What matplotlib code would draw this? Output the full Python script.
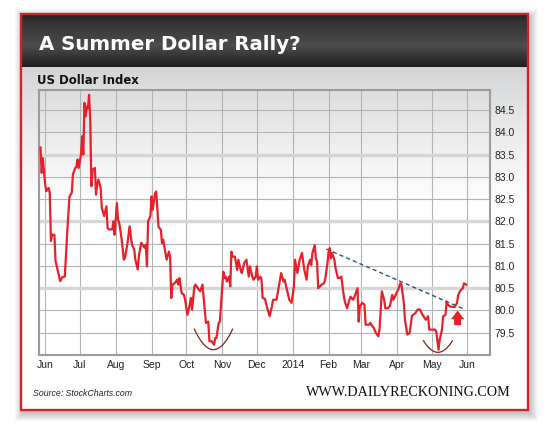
import numpy as np
import pandas as pd
import matplotlib
matplotlib.use('Agg')
import matplotlib.pyplot as plt
from matplotlib.patches import Rectangle

# US Dollar Index (days counted from 1 Jun 2013)
start = pd.Timestamp('2013-06-01')
day_offsets = [
    -4, -3, -2, 0, 1, 3, 4, 5, 6, 8, 9, 11, 13, 15, 17, 19, 21, 23, 24, 26,
    27, 28, 29, 31, 32, 33, 34, 35, 36, 37, 38, 39, 40, 41, 43, 44, 45, 46, 48, 49,
    51, 53, 54, 55, 58, 59, 60, 62, 63, 64, 66, 68, 69, 71, 73, 75, 77, 78, 80, 81,
    83, 84, 86, 87, 88, 89, 91, 92, 93, 95, 96, 98, 100, 101, 102, 104, 105, 107, 108, 109,
    110, 112, 114, 115, 116, 118, 120, 121, 123, 125, 126, 127, 129, 130, 132, 134, 136, 138, 139, 141,
    142, 144, 146, 147, 148, 150, 151, 153, 154, 155, 156, 157, 159, 160, 161, 162, 164, 166, 167, 169,
    170, 172, 173, 174, 176, 177, 179, 180, 182, 183, 184, 186, 187, 188, 190, 192, 194, 196, 197, 200,
    202, 204, 206, 207, 209, 211, 213, 215, 216, 218, 220, 222, 224, 226, 227, 229, 230, 231, 233, 234,
    235, 236, 239, 241, 242, 244, 245, 246, 247, 248, 250, 251, 253, 255, 256, 258, 259, 261, 263, 264,
    266, 267, 270, 271, 272, 274, 276, 277, 280, 281, 283, 284, 286, 288, 289, 291, 293, 294, 296, 298,
    300, 301, 303, 305, 307, 308, 310, 311, 313, 315, 317, 318, 320, 322, 324, 325, 327, 329, 331, 332,
    334, 336, 337, 338, 340, 341, 343, 344, 346, 347, 348, 350, 352, 354, 356, 357, 359, 361, 362, 364,
]
usd_index = [
    83.66, 83.09, 83.42, 82.83, 82.68, 82.75, 82.64, 81.56, 81.70, 81.70, 81.11, 80.88, 80.66, 80.75, 80.76, 81.70, 82.56, 82.64, 83.05, 83.20,
    83.22, 83.39, 83.20, 83.50, 83.91, 83.50, 84.66, 84.36, 84.58, 84.54, 84.84, 84.25, 82.79, 83.16, 83.20, 82.60, 82.83, 82.94, 82.75, 82.30,
    82.12, 82.34, 81.85, 81.82, 81.82, 82.00, 81.70, 82.41, 82.04, 81.97, 81.63, 81.14, 81.18, 81.48, 81.89, 81.48, 81.37, 81.14, 80.92, 81.22,
    81.52, 81.48, 81.41, 81.48, 80.99, 82.00, 82.12, 82.56, 82.26, 82.63, 82.67, 81.88, 81.81, 81.51, 81.59, 81.29, 81.14, 81.32, 81.21, 80.28,
    80.58, 80.61, 80.69, 80.58, 80.73, 80.39, 80.35, 80.24, 79.90, 80.13, 80.28, 80.02, 80.54, 80.58, 80.50, 80.43, 80.58, 80.02, 79.72, 79.75,
    79.31, 79.31, 79.23, 79.38, 79.38, 79.72, 79.75, 80.50, 80.87, 80.73, 80.76, 80.65, 80.76, 80.54, 81.32, 81.21, 81.21, 80.91, 81.14, 80.91,
    80.84, 81.06, 81.10, 81.14, 80.76, 80.99, 80.76, 80.69, 80.76, 80.99, 80.69, 80.76, 80.69, 80.28, 80.26, 80.05, 79.87, 80.09, 80.24, 80.24,
    80.54, 80.84, 80.65, 80.69, 80.46, 80.24, 80.17, 80.54, 81.14, 80.84, 81.14, 81.29, 80.91, 80.69, 80.99, 81.14, 81.02, 81.29, 81.47, 81.17,
    81.10, 80.50, 80.58, 80.61, 80.69, 81.06, 81.32, 81.40, 81.17, 81.29, 81.14, 80.95, 80.73, 80.73, 80.76, 80.35, 80.20, 80.05, 80.24, 80.31,
    80.24, 80.28, 80.50, 79.75, 80.09, 80.17, 80.13, 79.68, 79.68, 79.72, 79.64, 79.61, 79.49, 79.42, 79.57, 80.43, 80.24, 80.05, 80.05, 80.10,
    80.35, 80.24, 80.35, 80.46, 80.61, 80.58, 80.17, 79.79, 79.46, 79.49, 79.87, 79.90, 79.94, 80.02, 80.02, 79.96, 79.87, 79.79, 79.87, 79.57,
    79.57, 79.57, 79.57, 79.53, 79.12, 79.34, 79.57, 79.87, 79.90, 80.20, 80.13, 80.09, 80.08, 80.08, 80.17, 80.35, 80.45, 80.50, 80.61, 80.58,
]

# dashed resistance line
trend_days = [243, 362]
trend_values = [81.38, 80.03]

# the two hand-drawn "bowl" marks: centre day, half width (days), bottom, rise
bowls = [(145.5, 16.5, 79.12, 0.46), (339.5, 12.5, 79.06, 0.26)]
arrow_day = 356.5
arrow_values = [79.67, 80.0]

month_labels = ['Jun', 'Jul', 'Aug', 'Sep', 'Oct', 'Nov', 'Dec', '2014',
                'Feb', 'Mar', 'Apr', 'May', 'Jun']
y_ticks = [79.5, 80.0, 80.5, 81.0, 81.5, 82.0, 82.5, 83.0, 83.5, 84.0, 84.5]
wide_grid = [80.5, 82.0, 83.5]

title = 'A Summer Dollar Rally?'
subtitle = 'US Dollar Index'
source = 'Source: StockCharts.com'
site = 'WWW.DAILYRECKONING.COM'

red = '#e8202a'

dates = start + pd.to_timedelta(day_offsets, unit='D')

fig = plt.figure(figsize=(5.5, 4.3), dpi=100)
fig.patch.set_facecolor('white')
renderer = fig.canvas.get_renderer()


def fit_width(txt, width_px):
    # scale font size so the text spans the wanted width
    w = txt.get_window_extent(renderer).width
    txt.set_fontsize(txt.get_fontsize() * width_px / w)


# background / frame in pixel coordinates
bg = fig.add_axes([0, 0, 1, 1])
bg.axis('off')

for i in range(9):
    bg.add_patch(Rectangle((21 - i + 2, 14 - i + 3), 507 + 2 * i, 396 + 2 * i,
                           facecolor='black', alpha=0.028, lw=0, zorder=0))

# body gradient
ys = np.arange(67, 411)
t = np.clip((ys - 67) / 140.0, 0, 1) ** 0.8
c0 = np.array([0.82, 0.825, 0.83])
body = c0[None, :] * (1 - t[:, None]) + t[:, None]
body = np.repeat(body[:, None, :], 2, axis=1)
bg.imshow(body, extent=(21, 528, 410, 67), aspect='auto', origin='upper',
          interpolation='bilinear', zorder=1)

# header gradient
hy = np.linspace(0, 1, 60)
hv = np.interp(hy, [0, 0.15, 0.6, 1], [0.14, 0.2, 0.3, 0.12])
head = np.repeat(np.repeat(hv[:, None, None], 3, axis=2), 2, axis=1)
bg.imshow(head, extent=(21, 528, 67, 14), aspect='auto', origin='upper',
          interpolation='bilinear', zorder=1)

bg.add_patch(Rectangle((21, 14), 507, 396, fill=False, edgecolor='#d2232b',
                       lw=1.7, zorder=3))
bg.set_xlim(0, 550)
bg.set_ylim(430, 0)

t1 = bg.text(39, 44, title, color='white', fontsize=16, fontweight='bold',
             family='DejaVu Sans', va='center', ha='left', zorder=4)
t2 = bg.text(37, 81, subtitle, color='#111111', fontsize=9.5, fontweight='bold',
             family='DejaVu Sans', va='center', ha='left', zorder=4)
t3 = bg.text(33, 393, source, color='#222222', fontsize=6.3, style='italic',
             family=['Liberation Sans', 'DejaVu Sans'], va='center', ha='left', zorder=4)
t4 = bg.text(511, 393, site, color='#111111', fontsize=9.3,
             family=['Liberation Serif', 'DejaVu Serif'], va='center', ha='right', zorder=4)
fit_width(t1, 262)
fit_width(t2, 102)
fit_width(t3, 99)
fit_width(t4, 203)

# main chart
ax = fig.add_axes([39 / 550, 75 / 430, 451 / 550, 265 / 430])
ax.set_facecolor('none')

months = pd.date_range('2013-06-01', '2014-06-01', freq='MS')
for m in months:
    ax.axvline(m, color='#b4b4b4', lw=0.8, zorder=1)
for v in y_ticks:
    if v in wide_grid:
        ax.axhline(v, color='#d6d6d6', lw=2.4, zorder=1)
    else:
        ax.axhline(v, color='#b4b4b4', lw=0.8, zorder=1)

ax.plot(dates, usd_index, color=red, lw=1.6, zorder=4)

trend_dates = start + pd.to_timedelta(trend_days, unit='D')
ax.plot(trend_dates, trend_values, color='#2c5474', lw=1.0, ls=(0, (3, 2.2)), zorder=3)

for c, hw, b, rise in bowls:
    u = np.linspace(-1, 1, 40)
    bd = start + pd.to_timedelta(c + hw * u, unit='D')
    ax.plot(bd, b + rise * u ** 2, color='#8a1d1d', lw=0.9, zorder=3)

ad = start + pd.Timedelta(days=arrow_day)
ax.annotate('', xy=(ad, arrow_values[1]), xytext=(ad, arrow_values[0]),
            arrowprops=dict(arrowstyle='simple,head_length=0.45,head_width=0.68,tail_width=0.36',
                            mutation_scale=14, color=red, lw=0,
                            shrinkA=0, shrinkB=0), zorder=5)

ax.set_xlim(start - pd.Timedelta(days=5.3), start + pd.Timedelta(days=384.5))
ax.set_ylim(79.0, 84.95)

ax.set_xticks(months)
ax.set_xticklabels(month_labels)
ax.set_yticks(y_ticks)
ax.set_yticklabels([f'{v:.1f}' for v in y_ticks])
ax.yaxis.tick_right()
ax.tick_params(axis='both', length=0, labelsize=7.5, colors='#222222')
ax.tick_params(axis='y', pad=3.5)
ax.tick_params(axis='x', pad=3.5)
for lab in ax.get_xticklabels() + ax.get_yticklabels():
    lab.set_family(['Liberation Sans', 'DejaVu Sans'])

for s in ax.spines.values():
    s.set_color('#9c9c9c')
    s.set_linewidth(1.5)

fig.savefig('out.png', dpi=100)
